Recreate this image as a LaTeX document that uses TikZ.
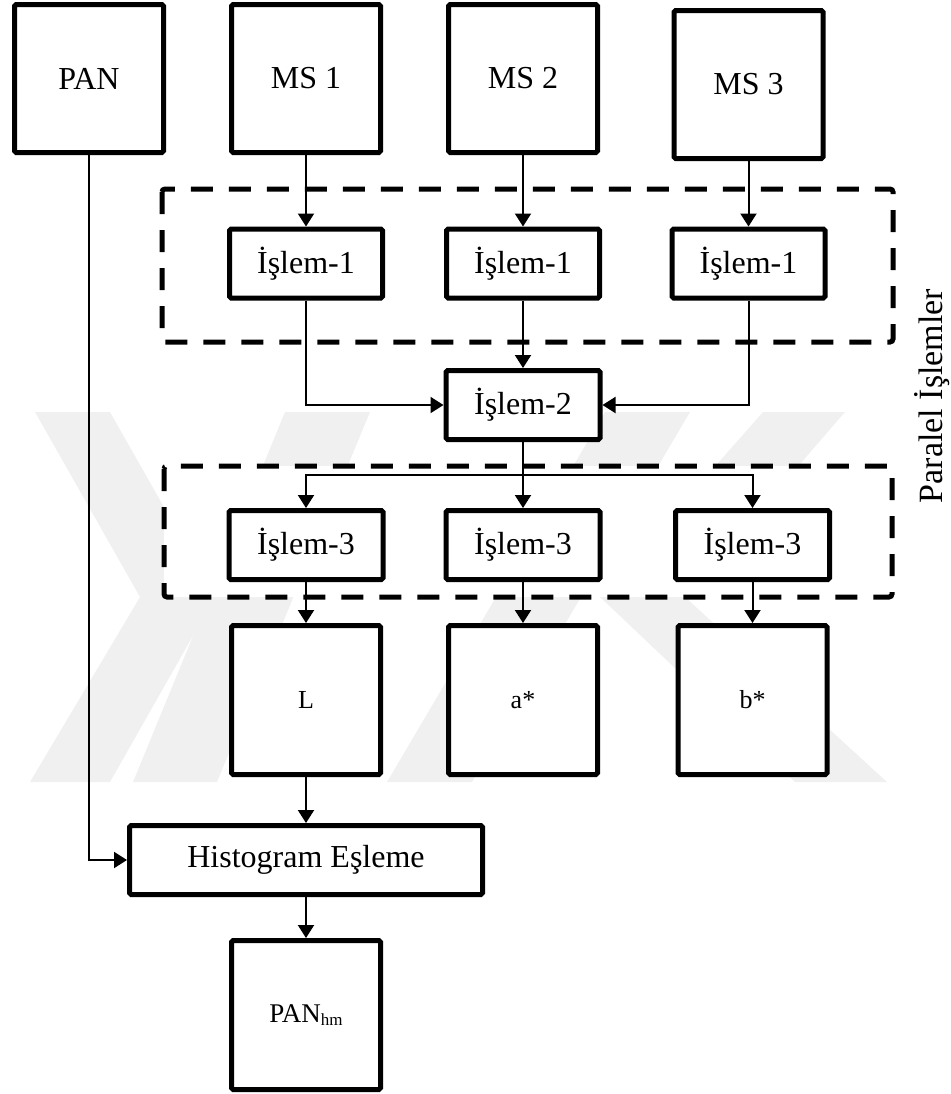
\documentclass[tikz,border=0pt]{standalone}
\usepackage{fontspec}
\setmainfont{Liberation Serif}
\usetikzlibrary{arrows.meta}
\tikzset{
  blk/.style={draw, line width=2.5pt, fill=white, inner sep=0pt, rounded corners=0.8pt,
              font=\fontsize{16}{19}\selectfont},
  srcbox/.style={blk, minimum width=74.5pt, minimum height=74pt},
  procbox/.style={blk, minimum width=77pt, minimum height=34.5pt},
  chanbox/.style={blk, minimum width=74.5pt, minimum height=74.5pt,
                  font=\fontsize{13}{15}\selectfont},
  grp/.style={line width=2.5pt, dash pattern=on 11pt off 8pt, fill=white, rounded corners=1.5pt},
  arr/.style={line width=1pt, -{Triangle[length=6.5pt,width=8pt]}},
  wm/.style={fill=black!6, draw=none},
}
\begin{document}
\begin{tikzpicture}[x=0.5pt,y=-0.5pt]
\useasboundingbox (0,0) rectangle (950,1094);

% faint background emblem
\fill[wm] (35,412) -- (110,412) -- (215,597) -- (110,782) -- (30,782) -- (140,597) -- cycle;
\fill[wm] (133,782) -- (217,782) -- (370,412) -- (285,412) -- cycle;
\fill[wm] (387,782) -- (472,782) -- (690,412) -- (605,412) -- cycle;
\fill[wm] (763,412) -- (845,412) -- (685,597) -- (887,782) -- (795,782) -- (600,597) -- cycle;

% parallel processing groups
\draw[grp] (162,189) rectangle (893,342);
\draw[grp] (164,466) rectangle (892,597);
\node[rotate=90, font=\fontsize{17}{20}\selectfont] (par) at (932,396) {Paralel İşlemler};

% inputs
\node[srcbox] (pan) at (89,78.5) {PAN};
\node[srcbox] (ms1) at (306,78.5) {MS 1};
\node[srcbox] (ms2) at (523,78.5) {MS 2};
\node[srcbox] (ms3) at (748.5,84.5) {MS 3};

% first stage
\node[procbox, minimum width=76.5pt] (i1a) at (306,263.5) {İşlem-1};
\node[procbox, minimum width=76.5pt] (i1b) at (523,263.5) {İşlem-1};
\node[procbox, minimum width=76.5pt] (i1c) at (748.5,263.5) {İşlem-1};

% second stage
\node[procbox] (i2) at (523,405) {İşlem-2};

% third stage
\node[procbox] (i3a) at (306,545) {İşlem-3};
\node[procbox] (i3b) at (523,545) {İşlem-3};
\node[procbox] (i3c) at (752.5,545) {İşlem-3};

% channels
\node[chanbox] (cl) at (306,700) {L};
\node[chanbox] (ca) at (523,700) {a*};
\node[chanbox] (cb) at (752.5,700) {b*};

% histogram matching and result
\node[blk, minimum width=176.5pt, minimum height=34.5pt] (hist) at (306,860) {Histogram Eşleme};
\node[chanbox, font=\fontsize{13.5}{15}\selectfont] (panhm) at (306,1015)
  {PAN\raisebox{-0.12em}{\fontsize{8.5}{10}\selectfont hm}};

% connectors
\draw[arr] (ms1.south) -- (i1a.north);
\draw[arr] (ms2.south) -- (i1b.north);
\draw[arr] (ms3.south) -- (i1c.north);
\draw[arr] (i1a.south) |- (i2.west);
\draw[arr] (i1b.south) -- (i2.north);
\draw[arr] (i1c.south) |- (i2.east);
\coordinate (br) at (523,475);
\draw[arr] (i2.south) -- (i3b.north);
\draw[arr] (br) -| (i3a.north);
\draw[arr] (br) -| (i3c.north);
\draw[arr] (i3a.south) -- (cl.north);
\draw[arr] (i3b.south) -- (ca.north);
\draw[arr] (i3c.south) -- (cb.north);
\draw[arr] (pan.south) |- (hist.west);
\draw[arr] (cl.south) -- (hist.north);
\draw[arr] (hist.south) -- (panhm.north);
\end{tikzpicture}
\end{document}
